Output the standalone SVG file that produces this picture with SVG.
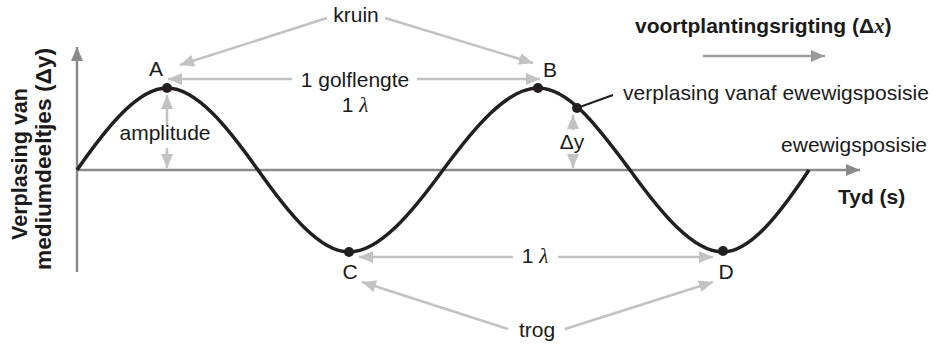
<svg xmlns="http://www.w3.org/2000/svg" width="933" height="347" viewBox="0 0 933 347">
<style>
text{font-family:"Liberation Sans",Arial,sans-serif;font-size:21px;fill:#1a1a1a}
.b{font-weight:bold}
.m{text-anchor:middle}
.lam{font-family:"Liberation Serif","Times New Roman",serif;font-style:italic}
.ax{stroke:#8a8a8a;stroke-width:2.5;fill:none}
.an{stroke:#c2c2c2;stroke-width:2.5;fill:none}
.wave{stroke:#231f20;stroke-width:3.5;fill:none}
.dot{fill:#231f20}
</style>
<defs>
<marker id="ha" markerWidth="14" markerHeight="12" viewBox="0 0 14 12" refX="14" refY="6" orient="auto" markerUnits="userSpaceOnUse"><path d="M0,0 L14,6 L0,12 z" fill="#8a8a8a"/></marker>
<marker id="hn" markerWidth="14" markerHeight="12" viewBox="0 0 14 12" refX="14" refY="6" orient="auto" markerUnits="userSpaceOnUse"><path d="M0,0 L14,6 L0,12 z" fill="#c2c2c2"/></marker>
<marker id="hp" markerWidth="14" markerHeight="12" viewBox="0 0 14 12" refX="14" refY="6" orient="auto" markerUnits="userSpaceOnUse"><path d="M0,0 L14,6 L0,12 z" fill="#9a9a9a"/></marker>
</defs>
<g id="axes">
<line class="ax" x1="77" y1="272" x2="77" y2="47" marker-end="url(#ha)"/>
<line class="ax" x1="77" y1="170" x2="860" y2="170" marker-end="url(#ha)"/>
</g>
<g id="wave">
<path class="wave" d="M77,170 C106.3,128 137.7,88 167,88 C196.7,88 228.3,128 258,170 C287.7,212 319.3,252 349,252 C379.6,252 412.4,212 443,170 C474,128 507,88 538,88 C570,88 600,130 630,170 C660.3,212 692.7,252 723,252 C751,252 781,212 809,170"/>
</g>
<g id="connectors">
<line class="an" x1="327" y1="18" x2="180" y2="65" marker-end="url(#hn)"/>
<line class="an" x1="385" y1="18" x2="533" y2="63" marker-end="url(#hn)"/>
<line class="an" x1="292" y1="79" x2="168" y2="79" marker-end="url(#hn)"/>
<line class="an" x1="417" y1="79" x2="540" y2="79" marker-end="url(#hn)"/>
<line class="an" x1="167" y1="125" x2="167" y2="95" marker-end="url(#hn)"/>
<line class="an" x1="167" y1="148" x2="167" y2="168" marker-end="url(#hn)"/>
<line class="an" x1="573" y1="130" x2="573" y2="115" marker-end="url(#hn)"/>
<line class="an" x1="573" y1="155" x2="573" y2="168" marker-end="url(#hn)"/>
<line class="an" x1="513" y1="257" x2="359" y2="257" marker-end="url(#hn)"/>
<line class="an" x1="558" y1="257" x2="713" y2="257" marker-end="url(#hn)"/>
<line class="an" x1="508" y1="329" x2="362" y2="282" marker-end="url(#hn)"/>
<line class="an" x1="565" y1="329" x2="713" y2="282" marker-end="url(#hn)"/>
<line x1="703" y1="56" x2="825" y2="56" stroke="#9a9a9a" stroke-width="2.5" marker-end="url(#hp)"/>
<line x1="577" y1="108" x2="613" y2="95" stroke="#231f20" stroke-width="2"/>
</g>
<g id="pointA"><circle class="dot" cx="167" cy="88" r="5"/><text class="m" x="156" y="76">A</text></g>
<g id="pointB"><circle class="dot" cx="538" cy="88" r="5"/><text class="m" x="550" y="77">B</text></g>
<g id="pointC"><circle class="dot" cx="349" cy="252" r="5"/><text class="m" x="350" y="279">C</text></g>
<g id="pointD"><circle class="dot" cx="723" cy="251" r="5"/><text class="m" x="726" y="279">D</text></g>
<g id="pointP"><circle class="dot" cx="577" cy="108" r="5"/></g>
<g id="kruin"><text class="m" x="356" y="22">kruin</text></g>
<g id="golflengte"><text class="m" x="355" y="87">1 golflengte</text><text class="m" x="355" y="112">1 <tspan class="lam">λ</tspan></text></g>
<g id="amplitude"><text class="m" x="165" y="140">amplitude</text></g>
<g id="dy"><text class="m" x="572" y="149">Δy</text></g>
<g id="lambda2"><text class="m" x="535" y="263">1 <tspan class="lam">λ</tspan></text></g>
<g id="trog"><text class="m" x="537" y="337">trog</text></g>
<g id="voortplanting"><text class="b" x="635" y="33">voortplantingsrigting (Δ<tspan class="lam">x</tspan>)</text></g>
<g id="verplasing"><text x="623" y="100" textLength="306" lengthAdjust="spacing">verplasing vanaf ewewigsposisie</text></g>
<g id="ewewig"><text x="927" y="152" text-anchor="end">ewewigsposisie</text></g>
<g id="tyd"><text class="b" x="838" y="204">Tyd (s)</text></g>
<g id="ylabel">
<text class="b" style="font-size:21.5px" transform="translate(27,240) rotate(-90)" textLength="152" lengthAdjust="spacingAndGlyphs">Verplasing van</text>
<text class="b" style="font-size:22px" transform="translate(51,270) rotate(-90)" textLength="222" lengthAdjust="spacingAndGlyphs">mediumdeeltjes (Δy)</text>
</g>
</svg>
